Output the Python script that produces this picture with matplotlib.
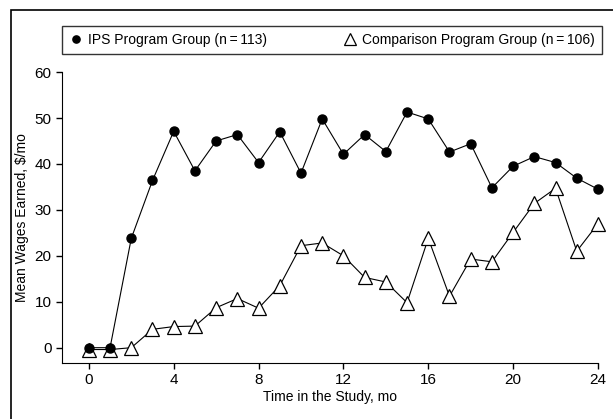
import matplotlib
matplotlib.use("Agg")
import matplotlib.pyplot as plt
from matplotlib.patches import Rectangle

plt.rcParams['font.family'] = ['Liberation Sans', 'DejaVu Sans']

# data
months = list(range(25))
ips = [0, 0, 23.8, 36.4, 47.1, 38.5, 45.0, 46.4, 40.3, 47.0, 38.0, 49.8, 42.1,
       46.4, 42.7, 51.3, 49.8, 42.6, 44.4, 34.8, 39.5, 41.6, 40.3, 36.9, 34.5]
comparison = [-0.4, -0.4, 0, 4.0, 4.6, 4.7, 8.7, 10.7, 8.6, 13.5, 22.2, 22.8, 20.0,
              15.3, 14.3, 9.8, 23.8, 11.2, 19.3, 18.7, 25.1, 31.4, 34.7, 21.0, 27.0]
xticks = [0, 4, 8, 12, 16, 20, 24]
yticks = [0, 10, 20, 30, 40, 50, 60]

fig = plt.figure(figsize=(6.13, 4.19), dpi=100)
ax = fig.add_axes([0.101, 0.134, 0.8745, 0.694])

# outer frame (only left/top edges are visible)
fig.patches.append(Rectangle((11/613, -0.1), 1.2, (419-10)/419 + 0.1,
                             transform=fig.transFigure, fill=False,
                             edgecolor='black', linewidth=1.2))

ax.plot(months, comparison, color='black', linewidth=0.8, marker='^',
        markersize=10, markerfacecolor='white', markeredgecolor='black',
        markeredgewidth=0.9, label='Comparison Program Group (n\u2009=\u2009106)',
        zorder=2, clip_on=False)
ax.plot(months, ips, color='black', linewidth=0.8, marker='o', markersize=6.5,
        markerfacecolor='black', label='IPS Program Group (n\u2009=\u2009113)',
        zorder=3, clip_on=False)

ax.set_xlim(-1.27, 24)
ax.set_ylim(-3.3, 60)
ax.set_xticks(xticks)
ax.set_yticks(yticks)
ax.spines['top'].set_visible(False)
ax.spines['right'].set_visible(False)
ax.tick_params(direction='out', length=4, width=1, labelsize=11)
ax.set_xlabel('Time in the Study, mo', fontsize=10, labelpad=2)
ax.set_ylabel('Mean Wages Earned, \\$/mo', fontsize=10, labelpad=4)

handles, labels = ax.get_legend_handles_labels()
leg = fig.legend(handles[::-1], labels[::-1], loc='lower left',
                 bbox_to_anchor=(62/613, (419-54)/419, 540/613, 33/419),
                 mode='expand', ncol=2, frameon=True,
                 fancybox=False, edgecolor='black', fontsize=10,
                 handlelength=1.0, handletextpad=0.4, borderpad=0.5,
                 borderaxespad=0)
leg.get_frame().set_linewidth(1.0)
for h in leg.legend_handles:
    h.set_linestyle('None')
    h.set_markersize(h.get_markersize() * 0.8)

fig.savefig('out.png', dpi=100)
